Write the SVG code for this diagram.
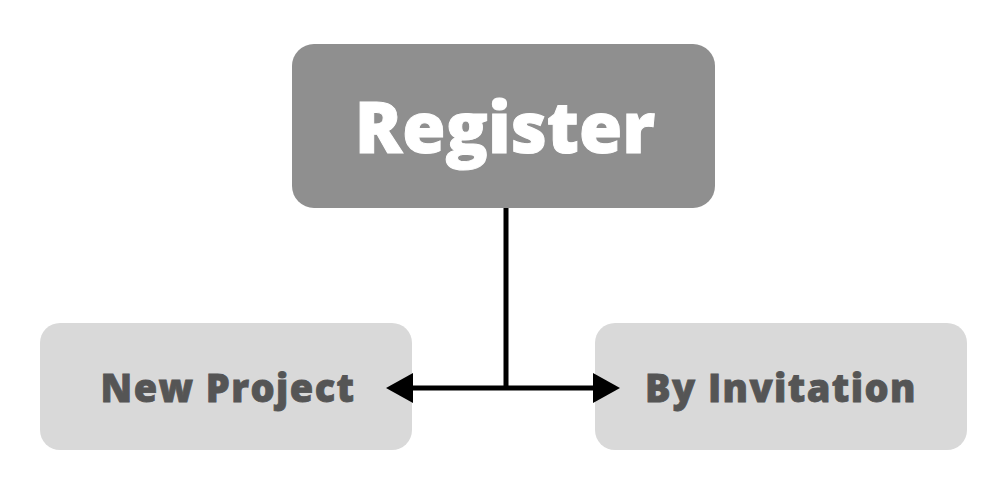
<svg xmlns="http://www.w3.org/2000/svg" width="1006" height="493" viewBox="0 0 1006 493">
  <style>
    .main { fill: #8f8f8f; }
    .sub { fill: #d9d9d9; }
    .t { font-family: "Open Sans", "Liberation Sans", sans-serif; text-anchor: middle; }
    .tm { fill: #ffffff; stroke: #ffffff; stroke-width: 1; font-size: 70px; font-weight: 800; }
    .ts { fill: #555555; stroke: #555555; stroke-width: 0.8; font-size: 38px; font-weight: 800; letter-spacing: 1.4px; }
    .conn { fill: none; stroke: #000000; stroke-width: 5; }
  </style>
  <defs>
    <marker id="arrow" markerUnits="userSpaceOnUse" viewBox="0 0 27 30" refX="0" refY="15" markerWidth="27" markerHeight="30" orient="auto-start-reverse">
      <path d="M0,0 L27,15 L0,30 Z" fill="#000000"/>
    </marker>
  </defs>
  <rect width="1006" height="493" fill="#ffffff"/>
  <g id="register">
    <rect class="main" x="292" y="44" width="423" height="164" rx="22"/>
    <text class="t tm" x="505" y="153">Register</text>
  </g>
  <g id="new-project">
    <rect class="sub" x="40" y="323" width="372" height="127" rx="20"/>
    <text class="t ts" x="228" y="402">New Project</text>
  </g>
  <g id="by-invitation">
    <rect class="sub" x="595" y="323" width="372" height="127" rx="20"/>
    <text class="t ts" x="781" y="402">By Invitation</text>
  </g>
  <g id="connectors">
    <path class="conn" d="M506,208 V388"/>
    <path class="conn" d="M413,388 H593" marker-start="url(#arrow)" marker-end="url(#arrow)"/>
  </g>
</svg>
